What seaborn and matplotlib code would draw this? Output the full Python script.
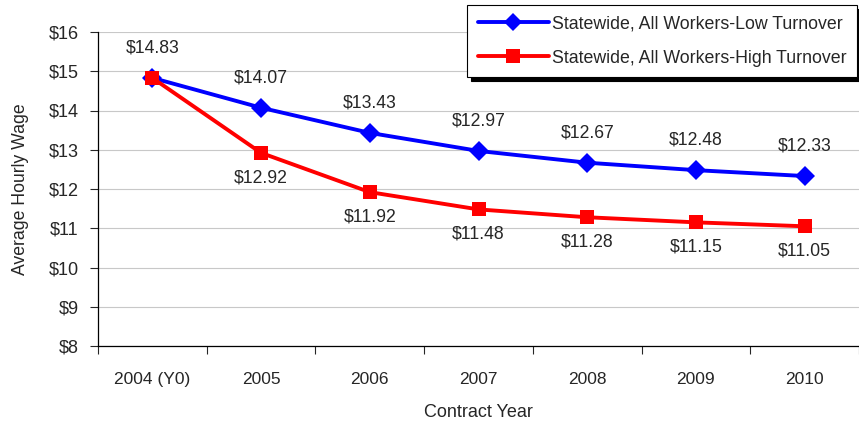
import pandas as pd
import matplotlib
matplotlib.use('Agg')
import matplotlib.pyplot as plt
import seaborn as sns

# Dados
anos = ['2004 (Y0)', '2005', '2006', '2007', '2008', '2009', '2010']
baixa_rotatividade = [14.83, 14.07, 13.43, 12.97, 12.67, 12.48, 12.33]
alta_rotatividade = [14.83, 12.92, 11.92, 11.48, 11.28, 11.15, 11.05]
series = ['Statewide, All Workers-Low Turnover', 'Statewide, All Workers-High Turnover']
yticks = [8, 9, 10, 11, 12, 13, 14, 15, 16]

sns.set_style('white')
plt.rcParams['font.family'] = ['Liberation Sans', 'DejaVu Sans']

dados = pd.DataFrame({
    'ano': anos * 2,
    'pos': list(range(len(anos))) * 2,
    'salario': baixa_rotatividade + alta_rotatividade,
    'serie': [series[0]] * len(anos) + [series[1]] * len(anos),
})

fig = plt.figure(figsize=(8.59, 4.26), dpi=100)
ax = fig.add_axes([98 / 859, 80 / 426, 761 / 859, 314 / 426])

for y in yticks:
    ax.axhline(y, color='#c8c8c8', lw=0.8, zorder=0)

sns.lineplot(data=dados, x='pos', y='salario', hue='serie', style='serie',
             palette=['#0000ff', '#ff0000'], markers=['D', 's'], dashes=False,
             lw=2.8, markersize=10, markeredgewidth=0, ax=ax, legend=False)

# Rótulos de valores
for i, v in enumerate(baixa_rotatividade):
    ax.annotate(f'${v:.2f}', (i, v), xytext=(0, 21.5), textcoords='offset points',
                ha='center', va='center', fontsize=12.7)
for i, v in enumerate(alta_rotatividade):
    if i == 0:
        continue
    ax.annotate(f'${v:.2f}', (i, v), xytext=(0, -18), textcoords='offset points',
                ha='center', va='center', fontsize=12.7)

ax.set_xlim(-0.5, 6.42)
ax.set_ylim(8, 16)
ax.set_yticks(yticks)
ax.set_yticklabels([f'${y}' for y in yticks], fontsize=13)
ax.set_xticks([i + 0.5 for i in range(-1, 7)], minor=False)
ax.set_xticklabels([])
ax.set_xticks(range(len(anos)), minor=True)
ax.set_xticklabels(anos, minor=True, fontsize=12.5)
ax.tick_params(axis='x', which='major', length=6, width=0.8, direction='out', bottom=True)
ax.tick_params(axis='x', which='minor', length=0, pad=19)
ax.tick_params(axis='y', length=6, width=0.8, direction='out', left=True, pad=8)

for lado in ['top', 'right']:
    ax.spines[lado].set_visible(False)
for lado in ['left', 'bottom']:
    ax.spines[lado].set_color('black')
    ax.spines[lado].set_linewidth(0.9)

ax.set_xlabel('Contract Year', fontsize=13, labelpad=12)
ax.set_ylabel('Average Hourly Wage', fontsize=12.7, labelpad=14)

# Legenda
handles = [
    plt.Line2D([], [], color='#0000ff', marker='D', lw=2.8, markersize=9, markeredgewidth=0),
    plt.Line2D([], [], color='#ff0000', marker='s', lw=2.8, markersize=10, markeredgewidth=0),
]
leg = ax.legend(handles, series, loc='upper right', bbox_to_anchor=(857 / 859, 1 - 5 / 426),
                bbox_transform=fig.transFigure, fontsize=12.8, frameon=True, fancybox=False,
                shadow={'color': 'black', 'alpha': 1, 'ox': 3, 'oy': -3},
                edgecolor='black', handlelength=4.0, borderpad=0.6, labelspacing=0.95,
                handletextpad=0.15, borderaxespad=0)
leg.get_frame().set_linewidth(0.8)

fig.savefig('out.png', dpi=100)
